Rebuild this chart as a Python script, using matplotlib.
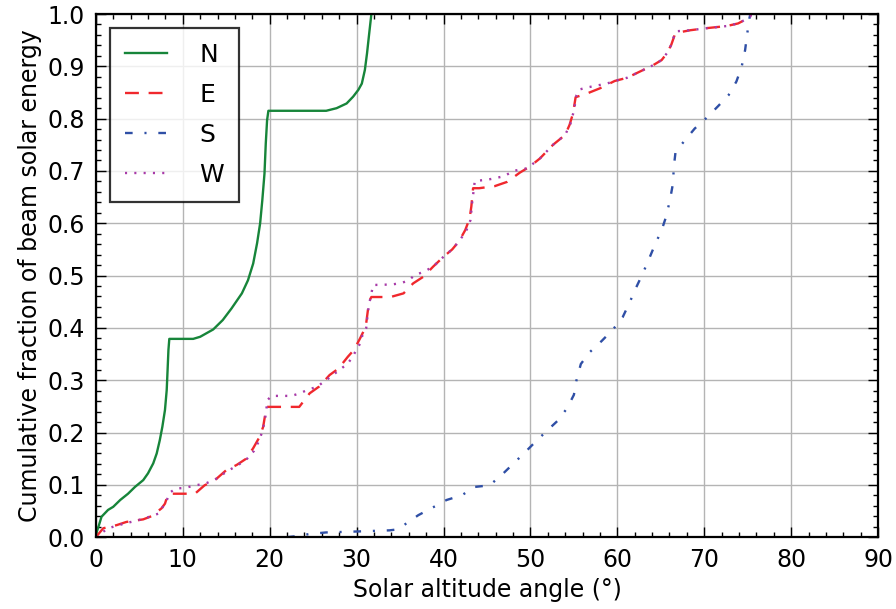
import numpy as np
import matplotlib
matplotlib.use('Agg')
import matplotlib.pyplot as plt
from matplotlib.ticker import MultipleLocator

plt.rcParams['font.family'] = ['DejaVu Sans']
plt.rcParams['lines.scale_dashes'] = False

# cumulative fraction of beam energy vs solar altitude
n_alt = [0, 0.1, 0.3, 0.65, 1.4, 2.0, 2.8, 3.7, 4.5, 5.45, 6.0, 6.6, 7.0, 7.35, 7.65,
         7.95, 8.15, 8.25, 8.35, 8.45, 11.2, 12.0, 13.5, 14.6, 15.6, 16.8, 17.5, 18.1,
         18.55, 18.9, 19.15, 19.4, 19.55, 19.7, 19.85, 26.5, 27.7, 28.85, 29.6, 30.2,
         30.6, 30.95, 31.2, 31.45, 31.7]
n_frac = [0, 0.01, 0.02, 0.039, 0.052, 0.058, 0.071, 0.083, 0.096, 0.109, 0.122, 0.141,
          0.16, 0.185, 0.211, 0.243, 0.281, 0.319, 0.358, 0.379, 0.379, 0.383, 0.397,
          0.415, 0.437, 0.466, 0.491, 0.523, 0.562, 0.6, 0.644, 0.695, 0.753, 0.797,
          0.815, 0.815, 0.82, 0.829, 0.842, 0.855, 0.867, 0.893, 0.925, 0.963, 1.0]

e_alt = [0, 0.85, 2.4, 3.5, 5.45, 6.4, 7.55, 7.95, 8.2, 8.45, 8.6, 11.4, 12.5, 13.7,
         15.0, 16.2, 17.3, 18.1, 18.85, 19.25, 19.5, 19.65, 23.4, 24.6, 25.7, 26.9, 27.9,
         29.0, 29.7, 30.4, 31.05, 31.3, 31.5, 31.7, 33.9, 35.4, 36.5, 37.7, 38.8, 40.0,
         41.0, 41.8, 42.5, 43.0, 43.2, 43.4, 44.1, 45.9, 47.3, 48.8, 49.9, 51.1, 52.6,
         54.0, 54.5, 54.9, 55.2, 56.5, 58.0, 59.7, 61.1, 62.6, 64.1, 65.1, 65.7, 66.2,
         66.6, 66.8, 68.4, 70.3, 72.6, 73.9, 74.7, 75.3, 75.4]
e_frac = [0, 0.017, 0.023, 0.029, 0.034, 0.04, 0.055, 0.064, 0.077, 0.083, 0.083, 0.083,
          0.099, 0.109, 0.128, 0.138, 0.15, 0.17, 0.192, 0.211, 0.236, 0.249, 0.249,
          0.275, 0.288, 0.31, 0.322, 0.345, 0.358, 0.38, 0.402, 0.434, 0.453, 0.459,
          0.459, 0.466, 0.485, 0.498, 0.517, 0.536, 0.55, 0.566, 0.587, 0.609, 0.632,
          0.667, 0.667, 0.671, 0.679, 0.697, 0.708, 0.724, 0.75, 0.769, 0.788, 0.81,
          0.841, 0.848, 0.858, 0.872, 0.878, 0.89, 0.902, 0.912, 0.925, 0.941, 0.96,
          0.964, 0.969, 0.973, 0.977, 0.982, 0.989, 0.995, 1.0]

s_alt = [22.0, 23.1, 24.6, 26.5, 28.5, 30.4, 32.1, 33.8, 34.8, 35.7, 37.1, 38.8, 40.35,
         42.1, 43.6, 45.3, 46.7, 48.0, 49.25, 50.5, 51.75, 53.1, 54.2, 55.0, 55.3, 55.8,
         56.85, 58.2, 59.5, 60.6, 61.4, 62.1, 62.9, 63.6, 64.3, 65.1, 65.6, 66.05, 66.4,
         66.5, 66.7, 67.8, 68.9, 70.3, 71.6, 72.8, 73.7, 74.3, 74.7, 74.95, 75.2, 75.3]
s_frac = [0.0, 0.002, 0.006, 0.009, 0.010, 0.011, 0.012, 0.013, 0.015, 0.026, 0.042,
          0.057, 0.071, 0.08, 0.096, 0.099, 0.119, 0.14, 0.16, 0.181, 0.201, 0.222,
          0.246, 0.272, 0.3, 0.331, 0.354, 0.375, 0.397, 0.42, 0.448, 0.475, 0.503,
          0.53, 0.558, 0.587, 0.612, 0.644, 0.676, 0.708, 0.737, 0.759, 0.781, 0.802,
          0.824, 0.845, 0.871, 0.899, 0.931, 0.963, 0.992, 1.0]

w_alt = [0, 1.4, 3.3, 5.5, 7.2, 8.1, 8.5, 9.2, 10.2, 11.2, 12.7, 13.9, 15.2, 16.3, 17.4,
         18.2, 18.8, 19.2, 19.5, 19.75, 20.2, 22.5, 23.5, 24.4, 25.4, 26.9, 27.9, 29.0,
         29.5, 30.4, 30.6, 31.1, 31.3, 31.5, 31.7, 31.9, 34.1, 35.2, 36.0, 36.7, 37.7,
         38.8, 40.0, 41.0, 41.8, 42.6, 43.1, 43.3, 43.6, 45.0, 47.0, 48.0, 49.6, 51.1,
         52.6, 54.0, 54.6, 55.0, 55.3, 55.7, 56.65, 58.8, 59.7, 61.1, 62.6, 64.1, 65.1,
         65.7, 66.2, 66.6, 66.8, 68.4, 70.3, 72.6, 73.9, 74.7, 75.3, 75.4]
w_frac = [0, 0.017, 0.026, 0.035, 0.045, 0.068, 0.085, 0.093, 0.094, 0.098, 0.103,
          0.112, 0.127, 0.137, 0.15, 0.165, 0.185, 0.205, 0.23, 0.262, 0.27, 0.27,
          0.275, 0.282, 0.287, 0.305, 0.318, 0.332, 0.344, 0.37, 0.383, 0.399, 0.431,
          0.45, 0.466, 0.482, 0.483, 0.486, 0.491, 0.501, 0.507, 0.517, 0.536, 0.55,
          0.566, 0.585, 0.606, 0.64, 0.681, 0.683, 0.69, 0.70, 0.705, 0.724, 0.75,
          0.769, 0.79, 0.815, 0.845, 0.856, 0.86, 0.867, 0.872, 0.878, 0.89, 0.902,
          0.912, 0.925, 0.941, 0.962, 0.967, 0.969, 0.973, 0.977, 0.982, 0.989, 0.995,
          1.0]

fig = plt.figure(figsize=(8.96, 6.09), dpi=100)
ax = fig.add_axes([0.107, 0.118, 0.873, 0.859])

ax.plot(n_alt, n_frac, color='#17853a', lw=1.7, label='N')
ax.plot(e_alt, e_frac, color='#f0282d', lw=1.7, dashes=(10, 7), label='E')
ax.plot(s_alt, s_frac, color='#2f4fa6', lw=1.7, dashes=(5.5, 8.5, 1.5, 8.5), label='S')
ax.plot(w_alt, w_frac, color='#a83aa8', lw=1.7, dashes=(1.5, 5.2), label='W')

ax.set_xlim(0, 90)
ax.set_ylim(0, 1.0)
ax.xaxis.set_major_locator(MultipleLocator(10))
ax.xaxis.set_minor_locator(MultipleLocator(2))
ax.yaxis.set_major_locator(MultipleLocator(0.1))
ax.yaxis.set_minor_locator(MultipleLocator(0.02))
ax.tick_params(which='both', direction='in', top=True, right=True, labelsize=17)
ax.tick_params(which='major', length=7, width=1, pad=8)
ax.tick_params(which='minor', length=3.5, width=1)
ax.grid(True, which='major', color='#b4b4b4', lw=1, ls='-')
for s in ax.spines.values():
    s.set_linewidth(1.6)

ax.set_xlabel('Solar altitude angle (°)', fontsize=17, labelpad=4)
ax.set_ylabel('Cumulative fraction of beam solar energy', fontsize=17, labelpad=4)

leg = ax.legend(loc='upper left', fontsize=18, handlelength=1.7, handletextpad=1.3,
                labelspacing=0.64, borderpad=0.6, borderaxespad=0.55, fancybox=False)
leg.get_frame().set_edgecolor('black')
leg.get_frame().set_linewidth(1.6)

fig.savefig('out.png', dpi=100)
